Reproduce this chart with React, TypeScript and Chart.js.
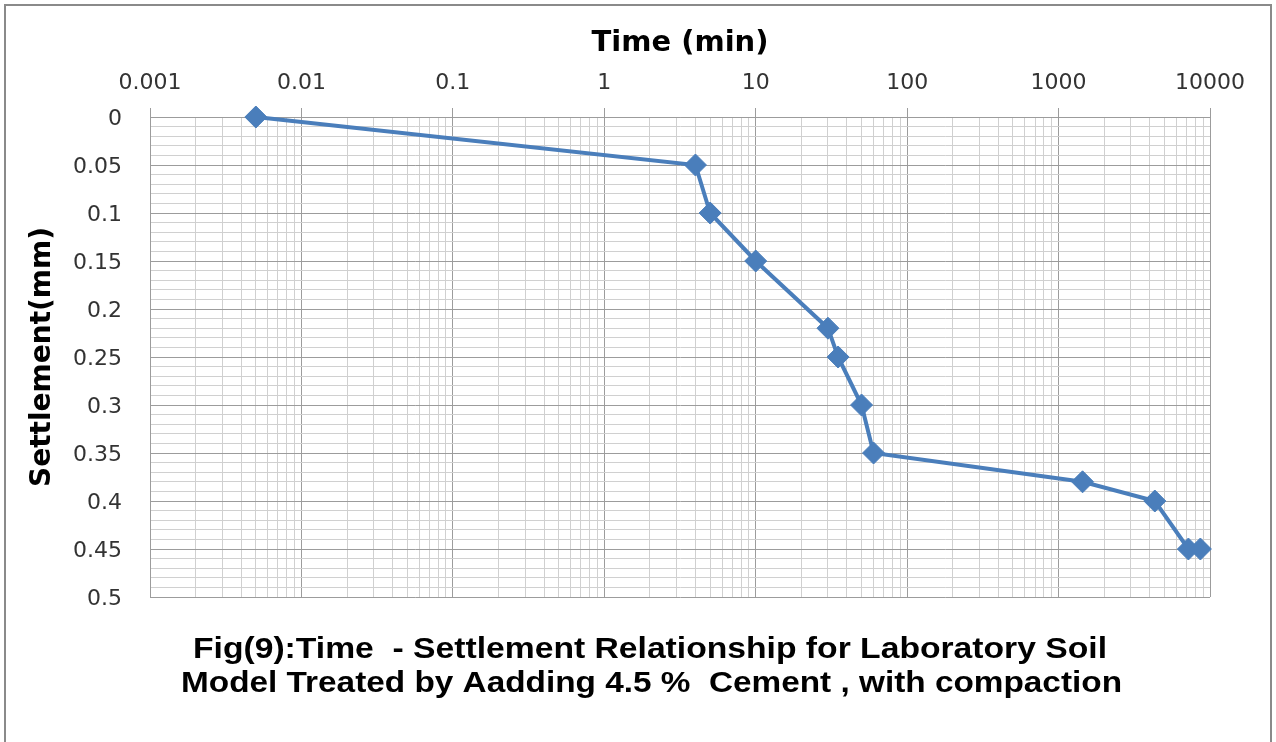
import React, { useEffect, useRef } from "react";
import { Chart, registerables } from "chart.js";

Chart.register(...registerables);

const timeMin = [0.005, 4, 5, 10, 30, 35, 50, 60, 1440, 4320, 7200, 8640];
const settlementMm = [0, 0.05, 0.1, 0.15, 0.22, 0.25, 0.3, 0.35, 0.38, 0.4, 0.45, 0.45];

const xTickValues = [0.001, 0.01, 0.1, 1, 10, 100, 1000, 10000];
const xTickLabels = ["0.001", "0.01", "0.1", "1", "10", "100", "1000", "10000"];
const yTickLabels = ["0", "0.05", "0.1", "0.15", "0.2", "0.25", "0.3", "0.35", "0.4", "0.45", "0.5"];

const xTitle = "Time (min)";
const yTitle = "Settlement(mm)";
const captionLines = [
  "Fig(9):Time  - Settlement Relationship for Laboratory Soil",
  "Model Treated by Aadding 4.5 %  Cement , with compaction",
];

const LINE_COLOR = "#4a7ebb";
const MAJOR_GRID = "#9c9c9c";
const MINOR_GRID = "#d0d0d0";

function isDecade(v: number) {
  const l = Math.log10(v);
  return Math.abs(l - Math.round(l)) < 1e-9;
}

function drawFitted(ctx: any, text: string, left: number, right: number, baseline: number) {
  const target = right - left;
  const w = ctx.measureText(text).width;
  ctx.save();
  ctx.textAlign = "left";
  ctx.translate(left, baseline);
  ctx.scale(target / w, 1);
  ctx.fillText(text, 0, 0);
  ctx.restore();
}

const framePlugin = {
  id: "frame",
  beforeDraw(chart: any) {
    const ctx = chart.ctx;
    ctx.save();
    ctx.fillStyle = "#ffffff";
    ctx.fillRect(0, 0, chart.width, chart.height);
    ctx.strokeStyle = "#8a8a8a";
    ctx.lineWidth = 2;
    ctx.strokeRect(5, 5, 1266, 745);
    ctx.restore();
  },
  afterDraw(chart: any) {
    const ctx = chart.ctx;
    ctx.save();
    ctx.fillStyle = "#000000";
    ctx.textBaseline = "alphabetic";
    ctx.font = 'bold 29px "Liberation Sans", Arial, sans-serif';
    drawFitted(ctx, captionLines[0], 193, 1107, 658);
    drawFitted(ctx, captionLines[1], 181, 1122, 692);
    ctx.restore();
  },
};

export default function App() {
  const ref = useRef<HTMLCanvasElement | null>(null);

  useEffect(() => {
    if (!ref.current) return;
    const points = timeMin.map((t, i) => ({ x: t, y: settlementMm[i] }));
    const chart = new Chart(ref.current, {
      type: "line",
      data: {
        datasets: [
          {
            data: points,
            borderColor: LINE_COLOR,
            backgroundColor: LINE_COLOR,
            borderWidth: 4,
            pointStyle: "rectRot",
            pointRadius: 11,
            pointBorderWidth: 1,
            pointBackgroundColor: LINE_COLOR,
            pointBorderColor: LINE_COLOR,
            tension: 0,
            clip: false as any,
          },
        ],
      },
      options: {
        responsive: false,
        animation: false,
        devicePixelRatio: 1,
        layout: { padding: { left: 10, top: 10, right: 66, bottom: 145 } },
        plugins: {
          legend: { display: false },
          tooltip: { enabled: false },
        },
        scales: {
          x: {
            type: "logarithmic",
            position: "top",
            min: 0.001,
            max: 10000,
            afterBuildTicks: (axis: any) => {
              const ticks: any[] = [];
              for (let d = 0; d < xTickValues.length; d++) {
                const base = xTickValues[d];
                if (d === xTickValues.length - 1) {
                  ticks.push({ value: base });
                } else {
                  for (let k = 1; k <= 9; k++) ticks.push({ value: base * k });
                }
              }
              axis.ticks = ticks;
            },
            afterFit: (axis: any) => {
              axis.height = 107;
            },
            ticks: {
              autoSkip: false,
              maxRotation: 0,
              padding: 12,
              color: "#333333",
              font: { family: '"DejaVu Sans", sans-serif', size: 22 },
              callback: (value: any) => {
                const v = Number(value);
                if (!isDecade(v)) return "";
                const idx = xTickValues.findIndex((t) => Math.abs(Math.log10(t) - Math.log10(v)) < 1e-6);
                return idx >= 0 ? xTickLabels[idx] : "";
              },
            },
            grid: {
              drawTicks: true,
              tickLength: 9,
              color: (c: any) => (c.tick && isDecade(c.tick.value) ? MAJOR_GRID : MINOR_GRID),
              tickColor: (c: any) => (c.tick && isDecade(c.tick.value) ? MAJOR_GRID : "rgba(0,0,0,0)"),
              lineWidth: 1,
            },
            border: { display: true, color: MAJOR_GRID, width: 1 },
            title: {
              display: true,
              text: xTitle,
              color: "#000000",
              font: { family: '"DejaVu Sans", sans-serif', size: 29, weight: "bold" },
              padding: { top: 16, bottom: 0 },
            },
          },
          y: {
            type: "linear",
            reverse: true,
            min: 0,
            max: 0.5,
            afterBuildTicks: (axis: any) => {
              const ticks: any[] = [];
              for (let i = 0; i <= 50; i++) ticks.push({ value: i / 100 });
              axis.ticks = ticks;
            },
            afterFit: (axis: any) => {
              axis.width = 140;
            },
            ticks: {
              autoSkip: false,
              padding: 28,
              labelOffset: 2,
              color: "#333333",
              font: { family: '"DejaVu Sans", sans-serif', size: 22 },
              callback: (value: any) => {
                const n = Math.round(Number(value) * 100);
                if (n % 5 !== 0) return "";
                return yTickLabels[n / 5];
              },
            },
            grid: {
              drawTicks: false,
              color: (c: any) => {
                if (!c.tick) return MINOR_GRID;
                const n = Math.round(c.tick.value * 100);
                return n % 5 === 0 ? MAJOR_GRID : MINOR_GRID;
              },
              lineWidth: 1,
            },
            border: { display: true, color: MAJOR_GRID, width: 1 },
            title: {
              display: true,
              text: yTitle,
              color: "#000000",
              font: { family: '"DejaVu Sans", sans-serif', size: 28, weight: "bold" },
              padding: { top: 16, bottom: 0 },
            },
          },
        },
      },
      plugins: [framePlugin],
    } as any);
    return () => chart.destroy();
  }, []);

  return (
    <div style={{ position: "fixed", left: 0, top: 0, width: 1276, height: 742 }}>
      <canvas ref={ref} width={1276} height={742} style={{ display: "block" }} />
    </div>
  );
}
